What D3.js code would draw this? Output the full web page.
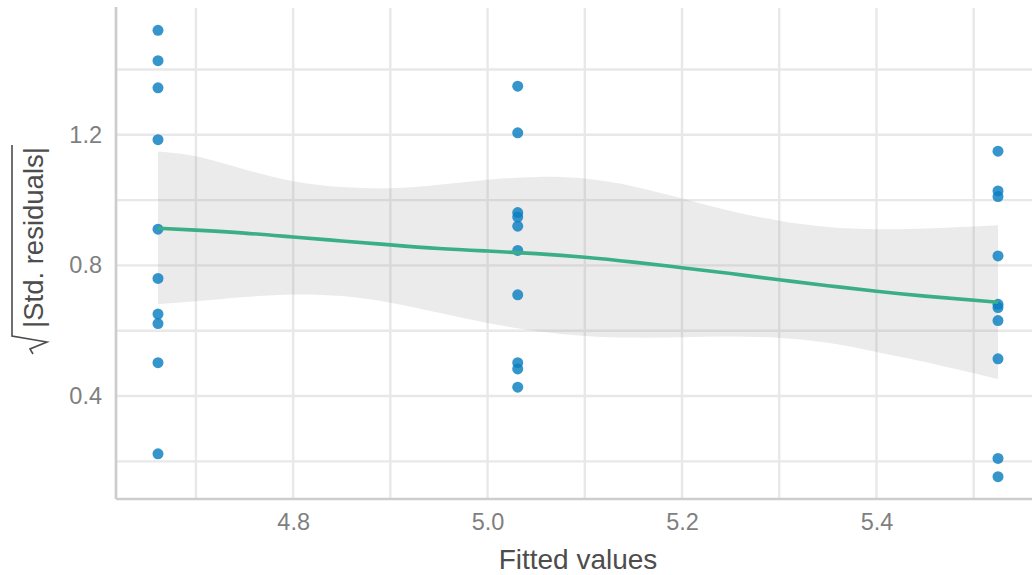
<!DOCTYPE html>
<html>
<head>
<meta charset="utf-8">
<script src="https://cdn.jsdelivr.net/npm/d3@7"></script>
<style>
  body { margin: 0; background: #fff; }
  svg { display: block; font-family: "Liberation Sans", Arial, sans-serif; }
</style>
</head>
<body>
<svg id="chart" width="1032" height="575"></svg>
<script>
// fitted value of each of the three groups
const groupFitted = [4.661, 5.031, 5.525];

// sqrt(|standardized residuals|) per group
const sqrtResLow = [1.520, 1.427, 1.344, 1.185, 0.911, 0.760, 0.651, 0.622, 0.502, 0.223];
const sqrtResMid = [1.349, 1.206, 0.962, 0.948, 0.920, 0.846, 0.710, 0.502, 0.483, 0.427];
const sqrtResHigh = [1.150, 1.028, 1.011, 0.829, 0.681, 0.671, 0.631, 0.514, 0.209, 0.153];

// loess smooth with confidence band
const smoothX = [4.661, 4.70, 4.75, 4.80, 4.85, 4.90, 4.95, 5.00, 5.05, 5.10, 5.15, 5.20, 5.25, 5.30, 5.35, 5.40, 5.45, 5.525];
const smoothFit = [0.914, 0.908, 0.899, 0.887, 0.875, 0.863, 0.852, 0.844, 0.836, 0.825, 0.810, 0.793, 0.775, 0.756, 0.738, 0.721, 0.706, 0.687];
const smoothUpper = [1.149, 1.134, 1.094, 1.058, 1.040, 1.036, 1.047, 1.062, 1.071, 1.066, 1.042, 1.005, 0.967, 0.937, 0.918, 0.911, 0.913, 0.923];
const smoothLower = [0.681, 0.690, 0.703, 0.711, 0.706, 0.686, 0.655, 0.624, 0.599, 0.584, 0.579, 0.580, 0.582, 0.578, 0.563, 0.535, 0.504, 0.452];

const xMajor = [4.8, 5.0, 5.2, 5.4];
const xMinor = [4.7, 4.9, 5.1, 5.3, 5.5];
const yMajor = [0.4, 0.8, 1.2];
const yMinor = [0.2, 0.6, 1.0, 1.4];

const svg = d3.select("#chart");
const margin = {left: 116, top: 8, right: 1040, bottom: 499};

const points = [];
[sqrtResLow, sqrtResMid, sqrtResHigh].forEach((arr, i) => {
    arr.forEach(v => points.push({x: groupFitted[i], y: v}));
});

// ggplot style 5% expansion
const expand = (ext) => {
    const pad = (ext[1] - ext[0]) * 0.05;
    return [ext[0] - pad, ext[1] + pad];
};

const x = d3.scaleLinear()
    .domain(expand(d3.extent(points, d => d.x)))
    .range([margin.left, margin.right]);
const y = d3.scaleLinear()
    .domain(expand(d3.extent(points, d => d.y)))
    .range([margin.bottom, margin.top]);

// grid
const grid = svg.append("g").attr("stroke", "#e8e8e8").attr("stroke-width", 2.4);
grid.selectAll("line.v")
    .data(xMajor.concat(xMinor))
    .join("line")
    .attr("x1", d => x(d)).attr("x2", d => x(d))
    .attr("y1", margin.top).attr("y2", margin.bottom);
grid.selectAll("line.h")
    .data(yMajor.concat(yMinor))
    .join("line")
    .attr("x1", margin.left).attr("x2", margin.right)
    .attr("y1", d => y(d)).attr("y2", d => y(d));

// confidence band
const band = smoothX.map((d, i) => ({x: d, lo: smoothLower[i], hi: smoothUpper[i], fit: smoothFit[i]}));
svg.append("path")
    .datum(band)
    .attr("fill", "#999999")
    .attr("fill-opacity", 0.2)
    .attr("d", d3.area()
        .curve(d3.curveNatural)
        .x(d => x(d.x))
        .y0(d => y(d.lo))
        .y1(d => y(d.hi)));

// points
svg.append("g")
    .selectAll("circle")
    .data(points)
    .join("circle")
    .attr("cx", d => x(d.x))
    .attr("cy", d => y(d.y))
    .attr("r", 5.5)
    .attr("fill", "#0a7fc0")
    .attr("fill-opacity", 0.82);

// smooth line
svg.append("path")
    .datum(band)
    .attr("fill", "none")
    .attr("stroke", "#3aaf85")
    .attr("stroke-width", 3.6)
    .attr("stroke-linecap", "butt")
    .attr("d", d3.line()
        .curve(d3.curveNatural)
        .x(d => x(d.x))
        .y(d => y(d.fit)));

// axis lines
svg.append("line")
    .attr("x1", margin.left).attr("x2", margin.left)
    .attr("y1", margin.top - 1).attr("y2", margin.bottom)
    .attr("stroke", "#cdcdcd").attr("stroke-width", 2.7);
svg.append("line")
    .attr("x1", margin.left).attr("x2", 1032)
    .attr("y1", margin.bottom).attr("y2", margin.bottom)
    .attr("stroke", "#cdcdcd").attr("stroke-width", 2.7);

// tick labels
const yAxis = svg.append("g")
    .attr("transform", `translate(${margin.left},0)`)
    .call(d3.axisLeft(y).tickValues(yMajor).tickFormat(d3.format(".1f")).tickSize(0).tickPadding(14));
const xAxis = svg.append("g")
    .attr("transform", `translate(0,${margin.bottom})`)
    .call(d3.axisBottom(x).tickValues(xMajor).tickFormat(d3.format(".1f")).tickSize(0).tickPadding(14));
[yAxis, xAxis].forEach(a => {
    a.select(".domain").remove();
    a.selectAll("text")
        .attr("fill", "#7f7f7f")
        .style("font-size", "23.5px")
        .style("font-family", "'Liberation Sans', Arial, sans-serif");
});

// x title
svg.append("text")
    .attr("x", (margin.left + margin.right) / 2)
    .attr("y", 569)
    .attr("text-anchor", "middle")
    .attr("fill", "#4d4d4d")
    .style("font-size", "28px")
    .text("Fitted values");

// y title: sqrt(|Std. residuals|)
const yt = svg.append("g")
    .attr("transform", "translate(43,328) rotate(-90)");
const ytText = yt.append("text")
    .attr("x", 0).attr("y", 0)
    .attr("fill", "#4d4d4d")
    .style("font-size", "27.5px")
    .text("|Std. residuals|");
const len = ytText.node().getComputedTextLength();
yt.append("path")
    .attr("fill", "none")
    .attr("stroke", "#4d4d4d")
    .attr("stroke-width", 1.6)
    .attr("stroke-linejoin", "miter")
    .attr("d", `M-26,-10 L-21,-13 L-14,4 L-8,-31 L${len + 2},-31`);
</script>
</body>
</html>
